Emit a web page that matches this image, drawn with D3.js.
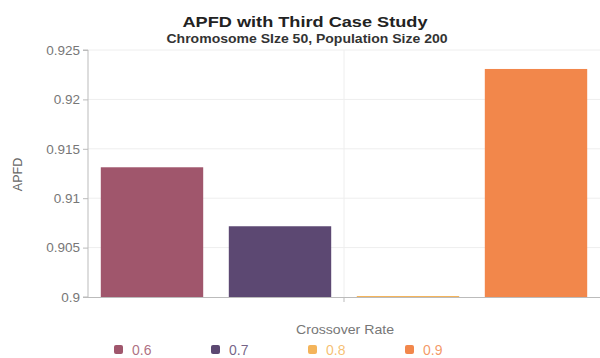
<!DOCTYPE html>
<html>
<head>
<meta charset="utf-8">
<script src="https://cdn.jsdelivr.net/npm/d3@7"></script>
<style>
  html, body { margin: 0; padding: 0; background: #fff; }
  svg { display: block; font-family: "Liberation Sans", Arial, sans-serif; }
</style>
</head>
<body>
<svg id="chart" width="600" height="358"></svg>
<script>
// Crossover rates and the APFD each one reached
const rates = ["0.6", "0.7", "0.8", "0.9"];
const apfd = [0.91313, 0.90716, 0.9001, 0.92308];
const colors = ["#a0566c", "#5c4872", "#f4b45a", "#f2874b"];
const yTicks = [0.9, 0.905, 0.91, 0.915, 0.92, 0.925];
const yTickLabels = ["0.9", "0.905", "0.91", "0.915", "0.92", "0.925"];

(function () {
const svg = d3.select("#chart");
const plotLeft = 88, plotRight = 600, plotTop = 50, plotBottom = 297;

const y = d3.scaleLinear().domain([0.9, 0.925]).range([plotBottom, plotTop]);
const x = d3.scaleBand().domain(rates).range([plotLeft, plotRight])
  .paddingInner(0.2).paddingOuter(0.1);

// Title block
svg.append("text").attr("x", 305).attr("y", 27).attr("text-anchor", "middle")
  .attr("font-size", 15.5).attr("font-weight", "bold").attr("fill", "#222")
  .attr("textLength", 245).attr("lengthAdjust", "spacingAndGlyphs")
  .text("APFD with Third Case Study");
svg.append("text").attr("x", 307).attr("y", 43).attr("text-anchor", "middle")
  .attr("font-size", 12).attr("font-weight", "bold").attr("fill", "#333")
  .attr("textLength", 281).attr("lengthAdjust", "spacingAndGlyphs")
  .text("Chromosome SIze 50, Population Size 200");

// Horizontal gridlines
svg.append("g").selectAll("line").data(yTicks.slice(1)).join("line")
  .attr("x1", plotLeft).attr("x2", plotRight)
  .attr("y1", d => y(d)).attr("y2", d => y(d))
  .attr("stroke", "#eeeeee").attr("stroke-width", 1);

// Vertical gridline at the category centre
const xc = (plotLeft + plotRight) / 2;
svg.append("line").attr("x1", xc).attr("x2", xc).attr("y1", plotTop).attr("y2", plotBottom)
  .attr("stroke", "#eeeeee");

// Bars
svg.append("g").selectAll("rect").data(rates).join("rect")
  .attr("x", d => x(d)).attr("width", x.bandwidth())
  .attr("y", (d, i) => y(apfd[i]))
  .attr("height", (d, i) => y(0.9) - y(apfd[i]))
  .attr("fill", (d, i) => colors[i]);

// Y axis
const yAxis = d3.axisLeft(y).tickValues(yTicks)
  .tickFormat((d, i) => yTickLabels[i]).tickSize(5).tickPadding(3);
const gy = svg.append("g").attr("transform", `translate(${plotLeft},0)`).call(yAxis);
gy.select(".domain").attr("stroke", "#bbbbbb").attr("d", `M-5,${plotTop}H0V${plotBottom}H-5`);
gy.selectAll(".tick line").attr("stroke", "#bbbbbb");
gy.selectAll(".tick text").attr("fill", "#777").attr("font-size", 13.5)
  .attr("font-family", "Liberation Sans, Arial, sans-serif");

// X axis baseline with centre tick
svg.append("line").attr("x1", plotLeft).attr("x2", plotRight)
  .attr("y1", plotBottom + 0.5).attr("y2", plotBottom + 0.5).attr("stroke", "#bbbbbb");
svg.append("line").attr("x1", xc).attr("x2", xc).attr("y1", plotBottom).attr("y2", plotBottom + 5)
  .attr("stroke", "#bbbbbb");

// Axis titles
svg.append("text").attr("transform", `translate(22,${(plotTop + plotBottom) / 2 + 1}) rotate(-90)`)
  .attr("text-anchor", "middle").attr("font-size", 12.5).attr("fill", "#666").text("APFD");
svg.append("text").attr("x", xc + 1).attr("y", 334).attr("text-anchor", "middle")
  .attr("font-size", 13).attr("fill", "#777")
  .attr("textLength", 98).attr("lengthAdjust", "spacingAndGlyphs")
  .text("Crossover Rate");

// Legend
const legend = svg.append("g").selectAll("g").data(rates).join("g")
  .attr("transform", (d, i) => `translate(${114 + i * 97},345)`);
legend.append("rect").attr("width", 9).attr("height", 9).attr("rx", 2)
  .attr("fill", (d, i) => colors[i]);
legend.append("text").attr("x", 18).attr("y", 9.5).attr("font-size", 14)
  .attr("fill", (d, i) => colors[i]).attr("fill-opacity", 0.85).text(d => d);
})();
</script>
</body>
</html>
